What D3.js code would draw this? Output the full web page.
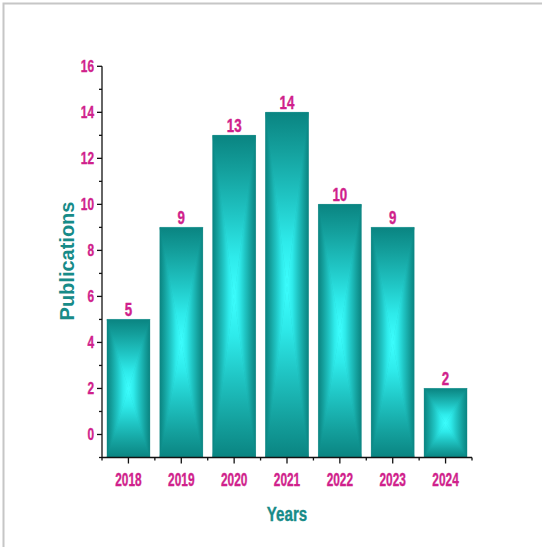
<!DOCTYPE html>
<html><head><meta charset="utf-8">
<script src="https://cdn.jsdelivr.net/npm/d3@7"></script>
<style>html,body{margin:0;padding:0;background:#fff}svg{display:block}</style>
</head><body>
<script>
const years = ["2018","2019","2020","2021","2022","2023","2024"];
const publications = [5, 9, 13, 14, 10, 9, 2];
const yTickValues = [0, 2, 4, 6, 8, 10, 12, 14, 16];
const yMinorValues = [-1, 1, 3, 5, 7, 9, 11, 13, 15];
const yDomain = [-1, 16];

const W = 542, H = 547;
const svg = d3.select("body").append("svg").attr("width", W).attr("height", H);
const magenta = "#d01f8c", teal = "#178b88";
const font = "'Liberation Sans', Arial, sans-serif";

// frame
svg.append("path").attr("d", `M3.5,${H} V3.5 H${W}`).attr("fill","none")
  .attr("stroke","#c6c6c6").attr("stroke-width",2);

const x = d3.scaleBand().domain(years).range([102, 472]).paddingInner(0.19).paddingOuter(0.095);
const y = d3.scaleLinear().domain(yDomain).range([457.5, 66.3]);

// gradients
const defs = svg.append("defs");
const stops = [[0,"#0a8481"],[0.22,"#14a09d"],[0.5,"#20c6c5"],[0.75,"#2eeaea"],[1,"#3dffff"]];
const dirs = {L:[0,0,1,0], R:[1,0,0,0], T:[0,0,0,1], B:[0,1,0,0]};
Object.entries(dirs).forEach(([k,[x1,y1,x2,y2]]) => {
  const g = defs.append("linearGradient").attr("id","g"+k)
    .attr("x1",x1).attr("y1",y1).attr("x2",x2).attr("y2",y2);
  stops.forEach(([o,c]) => g.append("stop").attr("offset",o).attr("stop-color",c));
});
const gh = defs.append("linearGradient").attr("id","gH").attr("x1",0).attr("x2",1);
[[0,"#0a8481"],[0.5,"#1cbdbb"],[1,"#0a8481"]].forEach(([o,c])=>gh.append("stop").attr("offset",o).attr("stop-color",c));

const bars = svg.append("g");
years.forEach((yr, i) => {
  const x0 = x(yr), x1 = x0 + x.bandwidth();
  const y0 = y(publications[i]), y1 = y(yDomain[0]);
  const cx = (x0 + x1) / 2, cy = (y0 + y1) / 2;
  const g = bars.append("g");
  g.append("rect").attr("x",x0).attr("y",y0).attr("width",x1-x0).attr("height",y1-y0).attr("fill","url(#gH)");
  const tri = (pts, id) => g.append("polygon").attr("points", pts.map(p=>p.join(",")).join(" "))
    .attr("fill", `url(#g${id})`).attr("stroke", `url(#g${id})`).attr("stroke-width",0.4);
  tri([[x0,y0],[x1,y0],[cx,cy]], "T");
  tri([[x0,y1],[x1,y1],[cx,cy]], "B");
  tri([[x0,y0],[cx,cy],[x0,y1]], "L");
  tri([[x1,y0],[cx,cy],[x1,y1]], "R");
  // value label
  svg.append("text").attr("transform", `translate(${cx},${y0-3}) scale(0.74,1)`)
    .attr("text-anchor","middle").attr("font-family",font).attr("font-weight","bold")
    .attr("font-size",18).attr("fill",magenta).attr("stroke",magenta).attr("stroke-width",0.4)
    .text(publications[i]);
});

// y axis
const ax = svg.append("g").attr("stroke","#111").attr("stroke-width",1.3);
ax.append("line").attr("x1",102).attr("x2",102).attr("y1",y(16)).attr("y2",y(yDomain[0]));
yTickValues.forEach(v => ax.append("line").attr("x1",97).attr("x2",102).attr("y1",y(v)).attr("y2",y(v)));
yMinorValues.forEach(v => ax.append("line").attr("x1",99).attr("x2",102).attr("y1",y(v)).attr("y2",y(v)));
yTickValues.forEach(v => svg.append("text").attr("transform", `translate(94,${y(v)+6}) scale(0.7,1)`)
  .attr("text-anchor","end").attr("font-family",font).attr("font-weight","bold")
  .attr("font-size",17).attr("fill",magenta).attr("stroke",magenta).attr("stroke-width",0.4).text(v));

// x axis
const xr = x.range();
const yb = y(yDomain[0]);
ax.append("line").attr("x1",xr[0]).attr("x2",xr[1]).attr("y1",yb).attr("y2",yb);
years.forEach(yr => {
  const c = x(yr) + x.bandwidth()/2;
  ax.append("line").attr("x1",c).attr("x2",c).attr("y1",yb).attr("y2",yb+6);
});
const step = x.step();
for (let i = 0; i <= years.length; i++) {
  const bx = xr[0] + i*step;
  ax.append("line").attr("x1",bx).attr("x2",bx).attr("y1",yb).attr("y2",yb+3);
}
years.forEach(yr => svg.append("text")
  .attr("transform", `translate(${x(yr)+x.bandwidth()/2},485.5) scale(0.66,1)`)
  .attr("text-anchor","middle").attr("font-family",font).attr("font-weight","bold")
  .attr("font-size",18).attr("fill",magenta).attr("stroke",magenta).attr("stroke-width",0.4).text(yr));

// titles
svg.append("text").attr("transform","translate(287,520.5) scale(0.72,1)")
  .attr("text-anchor","middle").attr("font-family",font).attr("font-weight","bold")
  .attr("font-size",21).attr("fill",teal).attr("stroke",teal).attr("stroke-width",0.4).text("Years");
svg.append("text").attr("transform","translate(74,261) rotate(-90)")
  .attr("text-anchor","middle").attr("font-family",font).attr("font-weight","bold")
  .attr("font-size",20).attr("fill",teal).text("Publications");
</script>
</body></html>
